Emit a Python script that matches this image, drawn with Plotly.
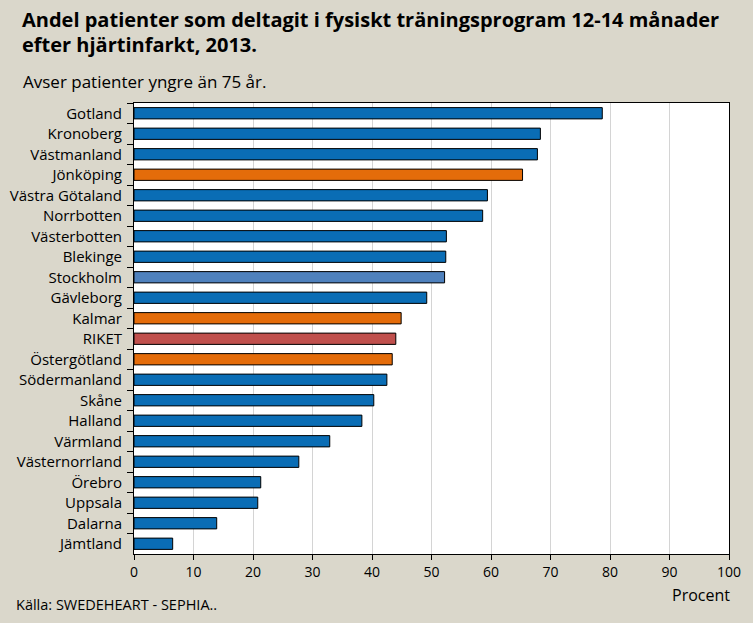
import plotly.graph_objects as go

categories = ["Gotland", "Kronoberg", "Västmanland", "Jönköping", "Västra Götaland",
              "Norrbotten", "Västerbotten", "Blekinge", "Stockholm", "Gävleborg",
              "Kalmar", "RIKET", "Östergötland", "Södermanland", "Skåne", "Halland",
              "Värmland", "Västernorrland", "Örebro", "Uppsala", "Dalarna", "Jämtland"]
values = [78.7, 68.3, 67.8, 65.3, 59.4, 58.6, 52.5, 52.4, 52.2, 49.2,
          44.9, 44.0, 43.4, 42.5, 40.3, 38.3, 32.9, 27.7, 21.3, 20.8, 13.9, 6.5]
groups = ["region", "region", "region", "highlight", "region", "region", "region",
          "region", "stockholm", "region", "highlight", "riket", "highlight", "region",
          "region", "region", "region", "region", "region", "region", "region", "region"]
x_ticks = [0, 10, 20, 30, 40, 50, 60, 70, 80, 90, 100]

color_map = {"region": "#0A6DB5", "highlight": "#E46C0A", "riket": "#C0504D", "stockholm": "#4F81BD"}
colors = [color_map[g] for g in groups]

FONT = "Open Sans"
BG = "#DAD7CB"

fig = go.Figure(go.Bar(
    x=values, y=categories, orientation="h",
    marker=dict(color=colors, line=dict(color="#000000", width=1)),
    hoverinfo="x+y",
))

W, H = 753, 623
l, r, t, b = 134, 24, 103, 69
pw, ph = W - l - r, H - t - b

fig.update_layout(
    width=W, height=H,
    paper_bgcolor=BG, plot_bgcolor="#FFFFFF",
    margin=dict(l=l, r=r, t=t, b=b, autoexpand=False),
    bargap=0.45,
    showlegend=False,
    font=dict(family=FONT, color="#000000"),
    xaxis=dict(
        range=[0, 100], tickvals=x_ticks, ticks="outside", ticklen=5, tickcolor="#000",
        showline=True, linecolor="#000", linewidth=1, mirror=True,
        showgrid=True, gridcolor="#D4D4D4", gridwidth=1,
        tickfont=dict(size=14, family=FONT), zeroline=False, fixedrange=True,
    ),
    yaxis=dict(
        autorange="reversed", ticks="outside", tickson="boundaries", ticklen=6, tickcolor="#000",
        showline=True, linecolor="#000", linewidth=1, mirror=True,
        showgrid=False, tickfont=dict(size=15, family=FONT), ticklabelstandoff=8,
        fixedrange=True,
    ),
)

texts = [
    ("<b>Andel patienter som deltagit i fysiskt träningsprogram 12-14 månader</b>", 20, 20, 20, "left"),
    ("<b>efter hjärtinfarkt, 2013.</b>", 20, 45, 20, "left"),
    ("Avser patienter yngre än 75 år.", 21, 82, 17, "left"),
    ("Procent", 732, 595, 16, "right"),
    ("Källa: SWEDEHEART - SEPHIA..", 14, 604, 14.5, "left"),
]
for txt, px, py, size, anchor in texts:
    fig.add_annotation(
        text=txt, xref="paper", yref="paper",
        x=(px - l) / pw, y=1 - (py - t) / ph,
        showarrow=False, xanchor=anchor, yanchor="middle",
        font=dict(size=size, family=FONT, color="#000000"),
    )

fig.write_html(
    "out.html",
    config={"displayModeBar": False},
    post_script="document.body.style.margin='0';document.body.style.background='%s';" % BG,
)
